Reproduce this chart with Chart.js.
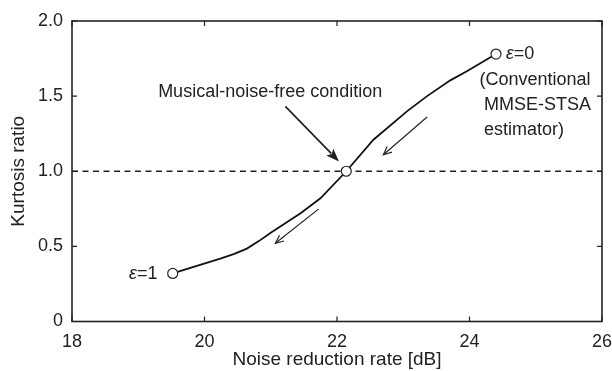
<!DOCTYPE html>
<html><head><meta charset="utf-8">
<script src="https://cdn.jsdelivr.net/npm/chart.js@4/dist/chart.umd.min.js"></script>
<style>html,body{margin:0;padding:0;background:#fff}#wrap{width:612px;height:371px}</style>
</head><body><div id="wrap"><canvas id="c" width="612" height="371"></canvas></div>
<script>
// Data
const curveX = [19.52, 20.25, 20.45, 20.64, 20.82, 21.0, 21.45, 21.75, 22.14, 22.55, 23.06, 23.36, 23.71, 23.96, 24.4];
const curveY = [0.32, 0.42, 0.45, 0.485, 0.535, 0.59, 0.72, 0.82, 1.0, 1.21, 1.40, 1.50, 1.605, 1.665, 1.78];
const markerX = [19.52, 22.14, 24.4];
const markerY = [0.32, 1.0, 1.78];
const refX = [18, 26];
const refY = [1.0, 1.0];
const xTicks = [18, 20, 22, 24, 26];
const yTicks = [0, 0.5, 1.0, 1.5, 2.0];
const yTickLabels = ['0', '0.5', '1.0', '1.5', '2.0'];

const FONT = '"Liberation Sans", Arial, sans-serif';
const FS = 18;

const framePlugin = {
  id: 'frame',
  afterDatasetsDraw(chart) {
    const {ctx, chartArea: a, scales: {x, y}} = chart;
    ctx.save();
    ctx.strokeStyle = '#222';
    ctx.lineWidth = 1.6;
    ctx.strokeRect(a.left, a.top, a.right - a.left, a.bottom - a.top);
    ctx.lineWidth = 1.2;
    const L = 5;
    ctx.beginPath();
    xTicks.forEach(v => {
      const px = x.getPixelForValue(v);
      ctx.moveTo(px, a.bottom); ctx.lineTo(px, a.bottom - L);
      ctx.moveTo(px, a.top); ctx.lineTo(px, a.top + L);
    });
    yTicks.forEach(v => {
      const py = y.getPixelForValue(v);
      ctx.moveTo(a.left, py); ctx.lineTo(a.left + L, py);
      ctx.moveTo(a.right, py); ctx.lineTo(a.right - L, py);
    });
    ctx.stroke();

    // annotations
    const P = (vx, vy) => [x.getPixelForValue(vx), y.getPixelForValue(vy)];
    ctx.fillStyle = '#222';
    ctx.strokeStyle = '#222';
    ctx.textBaseline = 'middle';
    ctx.font = FS + 'px ' + FONT;
    ctx.textAlign = 'left';
    let p = P(19.30, 1.53);
    ctx.fillText('Musical-noise-free condition', p[0], p[1]);

    function eps(px, py, rest, align) {
      ctx.font = 'italic ' + FS + 'px ' + FONT;
      const w1 = ctx.measureText('ε').width;
      ctx.font = FS + 'px ' + FONT;
      const w2 = ctx.measureText(rest).width;
      let sx = align === 'right' ? px - w1 - w2 : px;
      ctx.textAlign = 'left';
      ctx.font = 'italic ' + FS + 'px ' + FONT;
      ctx.fillText('ε', sx, py);
      ctx.font = FS + 'px ' + FONT;
      ctx.fillText(rest, sx + w1, py);
    }
    p = P(24.55, 1.783); eps(p[0], p[1], '=0', 'left');
    p = P(19.29, 0.317); eps(p[0], p[1], '=1', 'right');
    ctx.font = FS + 'px ' + FONT;
    p = P(24.15, 1.61); ctx.fillText('(Conventional', p[0], p[1]);
    p = P(24.22, 1.443); ctx.fillText('MMSE-STSA', p[0], p[1]);
    p = P(24.22, 1.277); ctx.fillText('estimator)', p[0], p[1]);

    function arrow(x0, y0, x1, y1, filled) {
      const [ax, ay] = P(x0, y0), [bx, by] = P(x1, y1);
      const ang = Math.atan2(by - ay, bx - ax);
      ctx.lineWidth = filled ? 1.7 : 1.2;
      ctx.beginPath();
      const hl = filled ? 14 : 9, hw = filled ? 0.36 : 0.42;
      const ex = filled ? bx - Math.cos(ang) * hl * 0.8 : bx;
      const ey = filled ? by - Math.sin(ang) * hl * 0.8 : by;
      ctx.moveTo(ax, ay); ctx.lineTo(ex, ey); ctx.stroke();
      ctx.beginPath();
      ctx.moveTo(bx - Math.cos(ang - hw) * hl, by - Math.sin(ang - hw) * hl);
      ctx.lineTo(bx, by);
      ctx.lineTo(bx - Math.cos(ang + hw) * hl, by - Math.sin(ang + hw) * hl);
      if (filled) { ctx.lineTo(bx - Math.cos(ang) * hl * 0.75, by - Math.sin(ang) * hl * 0.75); ctx.closePath(); ctx.fill(); }
      else ctx.stroke();
    }
    arrow(21.22, 1.432, 22.03, 1.065, true);
    arrow(23.36, 1.361, 22.70, 1.11, false);
    arrow(21.72, 0.748, 21.07, 0.521, false);
    ctx.restore();
  }
};

new Chart(document.getElementById('c'), {
  type: 'scatter',
  data: {
    datasets: [
      { data: refX.map((v, i) => ({x: v, y: refY[i]})), showLine: true, borderColor: '#222', borderWidth: 1.3, borderDash: [6, 4.5], pointRadius: 0, order: 3 },
      { data: curveX.map((v, i) => ({x: v, y: curveY[i]})), showLine: true, borderColor: '#111', borderWidth: 1.8, tension: 0, pointRadius: 0, order: 2 },
      { data: markerX.map((v, i) => ({x: v, y: markerY[i]})), showLine: false, pointRadius: 5, pointBackgroundColor: '#fff', pointBorderColor: '#222', pointBorderWidth: 1.2, order: 1 }
    ]
  },
  options: {
    responsive: false, animation: false, devicePixelRatio: 1,
    layout: { padding: { top: 21, right: 10, left: 0, bottom: 0 } },
    plugins: { legend: { display: false }, tooltip: { enabled: false } },
    scales: {
      x: {
        type: 'linear', min: 18, max: 26,
        afterBuildTicks: s => { s.ticks = xTicks.map(v => ({value: v})); },
        afterFit: s => { s.height = 49.5; s.paddingLeft = 0; s.paddingRight = 0; },
        grid: { display: false, drawTicks: false }, border: { display: false },
        ticks: { color: '#222', font: { family: FONT, size: FS }, padding: 10, maxRotation: 0, callback: v => String(v) },
        title: { display: true, text: 'Noise reduction rate [dB]', color: '#222', font: { family: FONT, size: 19 }, padding: { top: 0, bottom: 0 } }
      },
      y: {
        type: 'linear', min: 0, max: 2,
        afterBuildTicks: s => { s.ticks = yTicks.map(v => ({value: v})); },
        afterFit: s => { s.width = 72; s.paddingTop = 0; s.paddingBottom = 0; },
        grid: { display: false, drawTicks: false }, border: { display: false },
        ticks: { color: '#222', font: { family: FONT, size: FS }, padding: 9, callback: v => yTickLabels[yTicks.indexOf(v)] },
        title: { display: true, text: 'Kurtosis ratio', color: '#222', font: { family: FONT, size: 19 }, padding: { top: 7, bottom: 4 } }
      }
    }
  },
  plugins: [framePlugin]
});
</script></body></html>
